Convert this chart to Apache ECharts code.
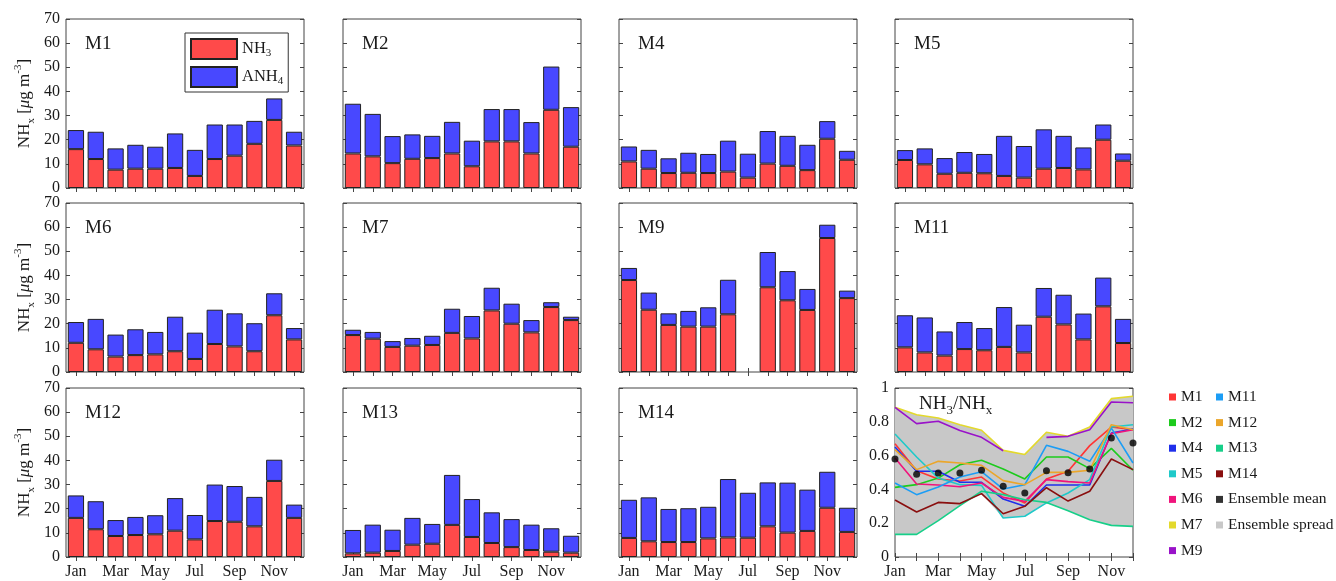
<!DOCTYPE html>
<html>
  <head>
    <title></title>
    <meta charset="UTF-8" />
    <script src="https://cdn.jsdelivr.net/npm/echarts@6/dist/echarts.min.js"></script>
  </head>
  <body style="margin:0">
    <div id="main"></div>
    <script>
      const months = ['Jan', 'Feb', 'Mar', 'Apr', 'May', 'Jun', 'Jul', 'Aug', 'Sep', 'Oct', 'Nov', 'Dec'];
      const yTicksBar = [0, 70, 10];
      const yTicksRatio = [0, 1, 0.2];

      // NH3 (red, bottom) and ANH4 (blue, on top) per model
      const M1_NH3 = [16.1, 12.0, 7.6, 8.0, 8.0, 8.3, 5.0, 12.0, 13.4, 18.3, 28.2, 17.6];
      const M1_ANH4 = [7.9, 11.3, 8.8, 9.9, 9.1, 14.3, 10.8, 14.3, 12.9, 9.5, 8.9, 5.7];
      const M2_NH3 = [14.3, 13.1, 10.3, 12.1, 12.4, 14.3, 9.0, 19.3, 19.3, 14.3, 32.4, 17.1];
      const M2_ANH4 = [20.6, 17.6, 11.2, 10.1, 9.2, 13.1, 10.6, 13.4, 13.4, 13.0, 17.9, 16.4];
      const M4_NH3 = [11.0, 8.0, 6.2, 6.3, 6.2, 6.8, 4.3, 10.1, 9.2, 7.4, 20.4, 11.7];
      const M4_ANH4 = [6.2, 7.8, 6.1, 8.3, 7.9, 12.8, 9.9, 13.5, 12.4, 10.5, 7.3, 3.7];
      const M5_NH3 = [11.6, 9.8, 5.9, 6.3, 6.1, 5.0, 4.3, 8.0, 8.3, 7.7, 20.0, 11.3];
      const M5_ANH4 = [4.1, 6.6, 6.5, 8.6, 8.0, 16.6, 13.1, 16.3, 13.3, 9.1, 6.3, 3.0];
      const M6_NH3 = [12.1, 9.4, 6.4, 7.0, 7.3, 8.6, 5.4, 11.6, 10.6, 8.6, 23.5, 13.5];
      const M6_ANH4 = [8.6, 12.6, 9.1, 10.7, 9.3, 14.3, 10.9, 14.2, 13.7, 11.6, 9.1, 4.7];
      const M7_NH3 = [15.3, 13.8, 10.4, 10.9, 11.2, 16.2, 13.9, 25.5, 20.0, 16.4, 26.9, 21.5];
      const M7_ANH4 = [2.2, 2.8, 2.4, 3.2, 3.8, 10.0, 9.3, 9.4, 8.3, 5.1, 2.0, 1.4];
      const M9_NH3 = [38.1, 25.8, 19.5, 18.8, 18.8, 23.9, null, 35.1, 29.7, 25.7, 55.5, 30.6];
      const M9_ANH4 = [5.0, 7.1, 4.8, 6.5, 8.0, 14.3, null, 14.6, 12.1, 8.7, 5.5, 3.1];
      const M11_NH3 = [10.2, 8.1, 6.8, 9.5, 9.0, 10.4, 8.1, 22.9, 19.7, 13.5, 27.2, 12.0];
      const M11_ANH4 = [13.3, 14.5, 10.0, 11.2, 9.2, 16.5, 11.5, 11.9, 12.3, 10.7, 11.9, 10.0];
      const M12_NH3 = [16.2, 11.5, 8.7, 9.1, 9.4, 10.9, 7.3, 14.9, 14.6, 12.7, 31.5, 16.2];
      const M12_ANH4 = [9.3, 11.6, 6.6, 7.5, 7.9, 13.5, 10.1, 15.1, 14.8, 12.2, 8.8, 5.5];
      const M13_NH3 = [1.5, 1.8, 2.5, 5.1, 5.5, 13.3, 8.3, 5.8, 4.1, 2.9, 2.2, 1.8];
      const M13_ANH4 = [9.7, 11.6, 8.8, 11.1, 8.2, 20.7, 15.7, 12.7, 11.6, 10.5, 9.7, 7.0];
      const M14_NH3 = [7.9, 6.5, 6.2, 6.2, 7.7, 8.1, 8.0, 12.7, 10.1, 10.8, 20.4, 10.4];
      const M14_ANH4 = [15.8, 18.2, 13.7, 14.0, 13.1, 24.2, 18.6, 18.2, 20.7, 17.1, 14.9, 10.0];

      // NH3/NHx ratio per model
      const M1_RATIO = [0.67, 0.511, 0.462, 0.45, 0.473, 0.379, 0.32, 0.462, 0.507, 0.659, 0.769, 0.753];
      const M2_RATIO = [0.412, 0.428, 0.467, 0.546, 0.572, 0.521, 0.462, 0.592, 0.592, 0.523, 0.643, 0.513];
      const M4_RATIO = [0.651, 0.507, 0.507, 0.442, 0.442, 0.343, 0.3, 0.426, 0.426, 0.426, 0.734, 0.757];
      const M5_RATIO = [0.728, 0.592, 0.467, 0.428, 0.424, 0.231, 0.241, 0.32, 0.379, 0.458, 0.769, 0.783];
      const M6_RATIO = [0.586, 0.432, 0.426, 0.416, 0.438, 0.353, 0.329, 0.458, 0.446, 0.438, 0.73, 0.753];
      const M7_RATIO = [0.886, 0.842, 0.822, 0.783, 0.75, 0.631, 0.607, 0.738, 0.714, 0.769, 0.937, 0.951];
      const M9_RATIO = [0.886, 0.789, 0.803, 0.748, 0.708, 0.629, null, 0.708, 0.714, 0.753, 0.917, 0.913];
      const M11_RATIO = [0.438, 0.369, 0.414, 0.473, 0.505, 0.402, 0.428, 0.661, 0.625, 0.566, 0.763, 0.556];
      const M12_RATIO = [0.635, 0.517, 0.566, 0.556, 0.542, 0.452, 0.428, 0.501, 0.501, 0.513, 0.783, 0.753];
      const M13_RATIO = [0.134, 0.134, 0.215, 0.304, 0.389, 0.369, 0.339, 0.323, 0.274, 0.221, 0.187, 0.181];
      const M14_RATIO = [0.337, 0.266, 0.323, 0.316, 0.375, 0.256, 0.3, 0.41, 0.331, 0.389, 0.58, 0.517];
      const ENSEMBLE_MEAN = [0.58, 0.489, 0.497, 0.497, 0.513, 0.418, 0.379, 0.511, 0.499, 0.521, 0.704, 0.675];

      const barPanels = [
        ['M1', M1_NH3, M1_ANH4], ['M2', M2_NH3, M2_ANH4], ['M4', M4_NH3, M4_ANH4], ['M5', M5_NH3, M5_ANH4],
        ['M6', M6_NH3, M6_ANH4], ['M7', M7_NH3, M7_ANH4], ['M9', M9_NH3, M9_ANH4], ['M11', M11_NH3, M11_ANH4],
        ['M12', M12_NH3, M12_ANH4], ['M13', M13_NH3, M13_ANH4], ['M14', M14_NH3, M14_ANH4],
      ];
      const ratioLines = [
        ['M1', M1_RATIO, '#ff3535'], ['M2', M2_RATIO, '#1dcb1d'], ['M4', M4_RATIO, '#1f2feb'],
        ['M5', M5_RATIO, '#1fc9c9'], ['M6', M6_RATIO, '#f0147c'], ['M7', M7_RATIO, '#e3d92c'],
        ['M9', M9_RATIO, '#9912c9'], ['M11', M11_RATIO, '#1c9df5'], ['M12', M12_RATIO, '#eba62a'],
        ['M13', M13_RATIO, '#17cf89'], ['M14', M14_RATIO, '#8a0f0f'],
      ];

      const width = 1336;
      const height = 581;
      const main = document.getElementById('main');
      main.style.width = `${width}px`;
      main.style.height = `${height}px`;

      const font = 'Liberation Serif';
      const ink = '#1a1a1a';
      const red = '#ff4a4a';
      const blue = '#4848ff';
      const colLeft = [66, 343, 619, 895];
      const rowTop = [19, 203, 388];
      const W = 238;
      const H = 169;

      const subStyle = { fontFamily: font, fontSize: 11, color: ink, verticalAlign: 'bottom', lineHeight: 11 };
      const supStyle = { fontFamily: font, fontSize: 11, color: ink, verticalAlign: 'top', lineHeight: 11 };

      const grids = [];
      const xAxes = [];
      const yAxes = [];
      const series = [];
      const titles = [];

      const tick = { show: true, inside: true, length: 4, lineStyle: { color: '#444' } };
      const label = { fontFamily: font, fontSize: 16, color: ink };

      function addPanel(i, isRatio) {
        const col = i % 4;
        const row = Math.floor(i / 4);
        grids.push({
          left: colLeft[col], top: rowTop[row], width: W, height: H,
          show: true, borderColor: '#444', borderWidth: 1, backgroundColor: '#fff',
        });
        const [ymin, ymax, yint] = isRatio ? yTicksRatio : yTicksBar;
        xAxes.push({
          type: 'category', gridIndex: i, data: months, position: 'bottom', boundaryGap: !isRatio,
          axisLine: { show: false },
          axisTick: { ...tick, interval: 0, alignWithLabel: true },
          axisLabel: { ...label, show: row === 2, interval: 1, margin: 7 },
        });
        xAxes.push({
          type: 'category', gridIndex: i, data: months, position: 'top', boundaryGap: !isRatio,
          axisLine: { show: false },
          axisTick: { ...tick, interval: 0, alignWithLabel: true },
          axisLabel: { show: false },
        });
        const left = {
          type: 'value', gridIndex: i, min: ymin, max: ymax, interval: yint, position: 'left',
          axisLine: { show: false }, splitLine: { show: false }, axisTick: tick,
          axisLabel: { ...label, show: col === 0 || isRatio, margin: 6 },
        };
        if (col === 0) {
          left.name = 'NH{sub|x} [{it|μ}g m{sup|-3}]';
          left.nameLocation = 'middle';
          left.nameGap = 29;
          left.nameTextStyle = {
            fontFamily: font, fontSize: 17, color: ink, lineHeight: 24,
            rich: { sub: subStyle, sup: supStyle, it: { fontFamily: font, fontSize: 17, fontStyle: 'italic', color: ink } },
          };
        }
        yAxes.push(left);
        yAxes.push({
          type: 'value', gridIndex: i, min: ymin, max: ymax, interval: yint, position: 'right',
          axisLine: { show: false }, splitLine: { show: false }, axisTick: tick, axisLabel: { show: false },
        });
      }

      barPanels.forEach(([name, nh3, anh4], i) => {
        addPanel(i, false);
        const col = i % 4;
        const row = Math.floor(i / 4);
        titles.push({
          text: name, left: colLeft[col] + 19, top: rowTop[row] + 16, padding: 0,
          textStyle: { fontFamily: font, fontSize: 19, fontWeight: 'normal', color: ink },
        });
        series.push({
          type: 'bar', name: 'NH3', xAxisIndex: 2 * i, yAxisIndex: 2 * i, stack: 'p' + i,
          data: nh3, barCategoryGap: '18%',
          itemStyle: { color: red, borderColor: '#222', borderWidth: 1 },
        });
        series.push({
          type: 'bar', name: 'ANH4', xAxisIndex: 2 * i, yAxisIndex: 2 * i, stack: 'p' + i,
          data: anh4, barCategoryGap: '18%',
          itemStyle: { color: blue, borderColor: '#222', borderWidth: 1 },
        });
      });

      // ratio panel
      const ri = 11;
      addPanel(ri, true);
      titles.push({
        text: 'NH{sub|3}/NH{sub|x}', left: 919, top: 391, padding: 0,
        textStyle: {
          fontFamily: font, fontSize: 19, fontWeight: 'normal', color: ink, lineHeight: 26,
          rich: { sub: { ...subStyle, fontSize: 13, lineHeight: 13 } },
        },
      });
      const lower = months.map((m, k) => Math.min(...ratioLines.map((r) => r[1][k]).filter((v) => v != null)));
      const upper = months.map((m, k) => Math.max(...ratioLines.map((r) => r[1][k]).filter((v) => v != null)));
      series.push({
        type: 'line', name: 'spreadBase', xAxisIndex: 2 * ri, yAxisIndex: 2 * ri, stack: 'spread',
        data: lower, symbol: 'none', lineStyle: { opacity: 0 }, silent: true,
      });
      series.push({
        type: 'line', name: 'Ensemble spread', xAxisIndex: 2 * ri, yAxisIndex: 2 * ri, stack: 'spread',
        data: upper.map((u, k) => u - lower[k]), symbol: 'none', color: '#c8c8c8',
        lineStyle: { width: 0, opacity: 0 }, areaStyle: { color: '#c8c8c8', opacity: 1 }, silent: true,
      });
      ratioLines.forEach(([name, data, color]) => {
        series.push({
          type: 'line', name, xAxisIndex: 2 * ri, yAxisIndex: 2 * ri, data, color,
          symbol: 'none', lineStyle: { width: 1.6, color },
        });
      });
      series.push({
        type: 'scatter', name: 'Ensemble mean', xAxisIndex: 2 * ri, yAxisIndex: 2 * ri,
        data: ENSEMBLE_MEAN, color: '#000', symbolSize: 7, z: 5,
      });

      const legendText = { fontFamily: font, fontSize: 15.5, color: ink, lineHeight: 16 };
      const option = {
        animation: false,
        title: titles,
        grid: grids,
        xAxis: xAxes,
        yAxis: yAxes,
        legend: [
          {
            data: ['NH3', 'ANH4'], orient: 'vertical', left: 185, top: 33, selectedMode: false,
            icon: 'rect', padding: [5, 5, 4, 5], itemWidth: 46, itemHeight: 20, itemGap: 6,
            backgroundColor: '#fff', borderColor: '#333', borderWidth: 1,
            formatter: (n) => (n === 'NH3' ? '{b|NH}{sub|3}' : '{b|ANH}{sub|4}'),
            textStyle: {
              fontFamily: font, fontSize: 16, color: ink, lineHeight: 20,
              rich: { b: { fontFamily: font, fontSize: 16.5, color: ink, lineHeight: 20 }, sub: subStyle },
            },
          },
          {
            data: ['M1', 'M2', 'M4', 'M5', 'M6', 'M7', 'M9'], orient: 'vertical', left: 1169, top: 389,
            icon: 'rect', itemWidth: 7, itemHeight: 7, itemGap: 9.6, selectedMode: false, padding: 0,
            textStyle: legendText,
          },
          {
            data: ['M11', 'M12', 'M13', 'M14', 'Ensemble mean', 'Ensemble spread'], orient: 'vertical',
            left: 1216, top: 389, icon: 'rect', itemWidth: 7, itemHeight: 7, itemGap: 9.6,
            selectedMode: false, padding: 0, textStyle: legendText,
          },
        ],
        series,
      };

      const myChart = echarts.init(main);
      myChart.setOption(option);
    </script>
  </body>
</html>
